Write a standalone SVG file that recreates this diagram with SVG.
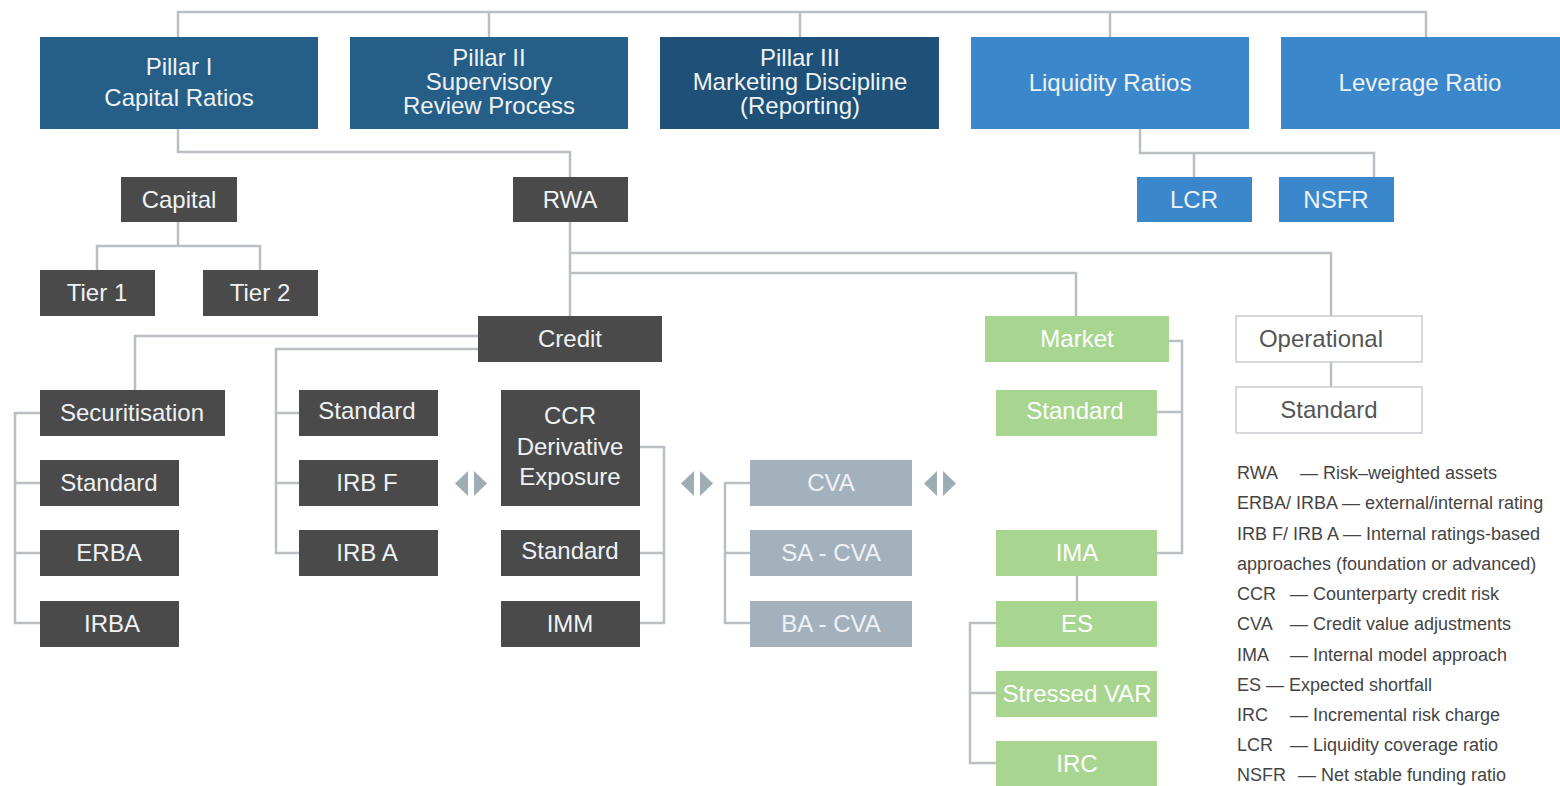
<svg xmlns="http://www.w3.org/2000/svg" xmlns:xlink="http://www.w3.org/1999/xlink" width="1560" height="786" viewBox="0 0 1560 786">
<style>
  .t{font-family:"Liberation Sans",Arial,sans-serif;font-size:24px;text-anchor:middle;fill:#eef2f5}
  .tg{fill:#ffffff}
  .td{fill:#555555}
  .p1{fill:#255f88}
  .p3{fill:#1f5077}
  .lb{fill:#3b87cb}
  .dk{fill:#4a4a4a}
  .cv{fill:#a3b1bd}
  .gr{fill:#a8d590}
  .wh{fill:#ffffff;stroke:#c9cccf;stroke-width:1.5}
  .conn path{fill:none;stroke:#b9bfc3;stroke-width:2.5}
  .arr{fill:#9eadb3}
  .lg{font-family:"Liberation Sans",Arial,sans-serif;font-size:18px;fill:#444444}
</style>
<defs>
  <g id="dbl">
    <polygon points="13,0 0,12.5 13,25"/>
    <polygon points="19,0 32,12.5 19,25"/>
  </g>
</defs>
<rect width="1560" height="786" fill="#ffffff"/>

<g id="connectors" class="conn">
  <path d="M178 37 V12 H1426 V37"/>
  <path d="M489 12 V37"/>
  <path d="M800 12 V37"/>
  <path d="M1110 12 V37"/>
  <path d="M178 129 V152 H570 V177"/>
  <path d="M178 222 V246"/>
  <path d="M97 270 V246 H260 V270"/>
  <path d="M1140 129 V153 H1374 V177"/>
  <path d="M1194 153 V177"/>
  <path d="M570 222 V316"/>
  <path d="M570 253 H1331 V316"/>
  <path d="M570 273 H1076 V316"/>
  <path d="M478 336 H135 V390"/>
  <path d="M478 349 H276 V553 H299"/>
  <path d="M276 413 H299"/>
  <path d="M276 483 H299"/>
  <path d="M40 413 H15 V623 H40"/>
  <path d="M15 483 H40"/>
  <path d="M15 553 H40"/>
  <path d="M640 447 H664 V623 H640"/>
  <path d="M640 553 H664"/>
  <path d="M750 483 H725 V623 H750"/>
  <path d="M725 553 H750"/>
  <path d="M1169 341 H1182 V553 H1157"/>
  <path d="M1157 412 H1182"/>
  <path d="M1077 576 V601"/>
  <path d="M996 623 H970 V763 H996"/>
  <path d="M970 693 H996"/>
  <path d="M1331 362 V387"/>
</g>

<g id="double-arrows" class="arr">
  <use xlink:href="#dbl" x="455" y="471"/>
  <use xlink:href="#dbl" x="681" y="471"/>
  <use xlink:href="#dbl" x="924" y="471"/>
</g>

<g id="pillar1"><rect class="p1" x="40" y="37" width="278" height="92"/><text class="t" x="179" y="75">Pillar I</text><text class="t" x="179" y="106">Capital Ratios</text></g>
<g id="pillar2"><rect class="p1" x="350" y="37" width="278" height="92"/><text class="t" x="489" y="66">Pillar II</text><text class="t" x="489" y="90">Supervisory</text><text class="t" x="489" y="114">Review Process</text></g>
<g id="pillar3"><rect class="p3" x="660" y="37" width="279" height="92"/><text class="t" x="800" y="66">Pillar III</text><text class="t" x="800" y="90">Marketing Discipline</text><text class="t" x="800" y="114">(Reporting)</text></g>
<g id="liquidity"><rect class="lb" x="971" y="37" width="278" height="92"/><text class="t" x="1110" y="91">Liquidity Ratios</text></g>
<g id="leverage"><rect class="lb" x="1281" y="37" width="279" height="92"/><text class="t" x="1420" y="91">Leverage Ratio</text></g>

<g id="capital"><rect class="dk" x="121" y="177" width="116" height="45"/><text class="t" x="179" y="208">Capital</text></g>
<g id="rwa"><rect class="dk" x="513" y="177" width="115" height="45"/><text class="t" x="570" y="208">RWA</text></g>
<g id="lcr"><rect class="lb" x="1137" y="177" width="115" height="45"/><text class="t" x="1194" y="208">LCR</text></g>
<g id="nsfr"><rect class="lb" x="1279" y="177" width="115" height="45"/><text class="t" x="1336" y="208">NSFR</text></g>

<g id="tier1"><rect class="dk" x="40" y="270" width="115" height="46"/><text class="t" x="97" y="301">Tier 1</text></g>
<g id="tier2"><rect class="dk" x="203" y="270" width="115" height="46"/><text class="t" x="260" y="301">Tier 2</text></g>

<g id="credit"><rect class="dk" x="478" y="316" width="184" height="46"/><text class="t" x="570" y="347">Credit</text></g>
<g id="market"><rect class="gr" x="985" y="316" width="184" height="46"/><text class="t tg" x="1077" y="347">Market</text></g>
<g id="operational"><rect class="wh" x="1236" y="316" width="186" height="46"/><text class="t td" x="1321" y="347">Operational</text></g>
<g id="op-standard"><rect class="wh" x="1236" y="387" width="186" height="46"/><text class="t td" x="1329" y="418">Standard</text></g>

<g id="securitisation"><rect class="dk" x="40" y="390" width="185" height="46"/><text class="t" x="132" y="421">Securitisation</text></g>
<g id="sec-standard"><rect class="dk" x="40" y="460" width="139" height="46"/><text class="t" x="109" y="491">Standard</text></g>
<g id="erba"><rect class="dk" x="40" y="530" width="139" height="46"/><text class="t" x="109" y="561">ERBA</text></g>
<g id="irba"><rect class="dk" x="40" y="601" width="139" height="46"/><text class="t" x="112" y="632">IRBA</text></g>

<g id="cr-standard"><rect class="dk" x="299" y="390" width="139" height="46"/><text class="t" x="367" y="419">Standard</text></g>
<g id="irbf"><rect class="dk" x="299" y="460" width="139" height="46"/><text class="t" x="367" y="491">IRB F</text></g>
<g id="irba-cr"><rect class="dk" x="299" y="530" width="139" height="46"/><text class="t" x="367" y="561">IRB A</text></g>

<g id="ccr"><rect class="dk" x="501" y="390" width="139" height="116"/><text class="t" x="570" y="424">CCR</text><text class="t" x="570" y="455">Derivative</text><text class="t" x="570" y="485">Exposure</text></g>
<g id="ccr-standard"><rect class="dk" x="501" y="530" width="139" height="46"/><text class="t" x="570" y="559">Standard</text></g>
<g id="imm"><rect class="dk" x="501" y="601" width="139" height="46"/><text class="t" x="570" y="632">IMM</text></g>

<g id="cva"><rect class="cv" x="750" y="460" width="162" height="46"/><text class="t" x="831" y="491">CVA</text></g>
<g id="sa-cva"><rect class="cv" x="750" y="530" width="162" height="46"/><text class="t" x="831" y="561">SA - CVA</text></g>
<g id="ba-cva"><rect class="cv" x="750" y="601" width="162" height="46"/><text class="t" x="831" y="632">BA - CVA</text></g>

<g id="mk-standard"><rect class="gr" x="996" y="390" width="161" height="46"/><text class="t tg" x="1075" y="419">Standard</text></g>
<g id="ima"><rect class="gr" x="996" y="530" width="161" height="46"/><text class="t tg" x="1077" y="561">IMA</text></g>
<g id="es"><rect class="gr" x="996" y="601" width="161" height="46"/><text class="t tg" x="1077" y="632">ES</text></g>
<g id="svar"><rect class="gr" x="996" y="671" width="161" height="46"/><text class="t tg" x="1077" y="702">Stressed VAR</text></g>
<g id="irc"><rect class="gr" x="996" y="741" width="161" height="45"/><text class="t tg" x="1077" y="772">IRC</text></g>

<g id="legend" class="lg">
  <text y="479"><tspan x="1237">RWA</tspan><tspan x="1300">— Risk–weighted assets</tspan></text>
  <text y="509"><tspan x="1237">ERBA/ IRBA — external/internal rating</tspan></text>
  <text y="540"><tspan x="1237">IRB F/ IRB A — Internal ratings-based</tspan></text>
  <text y="570"><tspan x="1237">approaches (foundation or advanced)</tspan></text>
  <text y="600"><tspan x="1237">CCR</tspan><tspan x="1290">— Counterparty credit risk</tspan></text>
  <text y="630"><tspan x="1237">CVA</tspan><tspan x="1290">— Credit value adjustments</tspan></text>
  <text y="661"><tspan x="1237">IMA</tspan><tspan x="1290">— Internal model approach</tspan></text>
  <text y="691"><tspan x="1237">ES — Expected shortfall</tspan></text>
  <text y="721"><tspan x="1237">IRC</tspan><tspan x="1290">— Incremental risk charge</tspan></text>
  <text y="751"><tspan x="1237">LCR</tspan><tspan x="1290">— Liquidity coverage ratio</tspan></text>
  <text y="781"><tspan x="1237">NSFR</tspan><tspan x="1298">— Net stable funding ratio</tspan></text>
</g>
</svg>
